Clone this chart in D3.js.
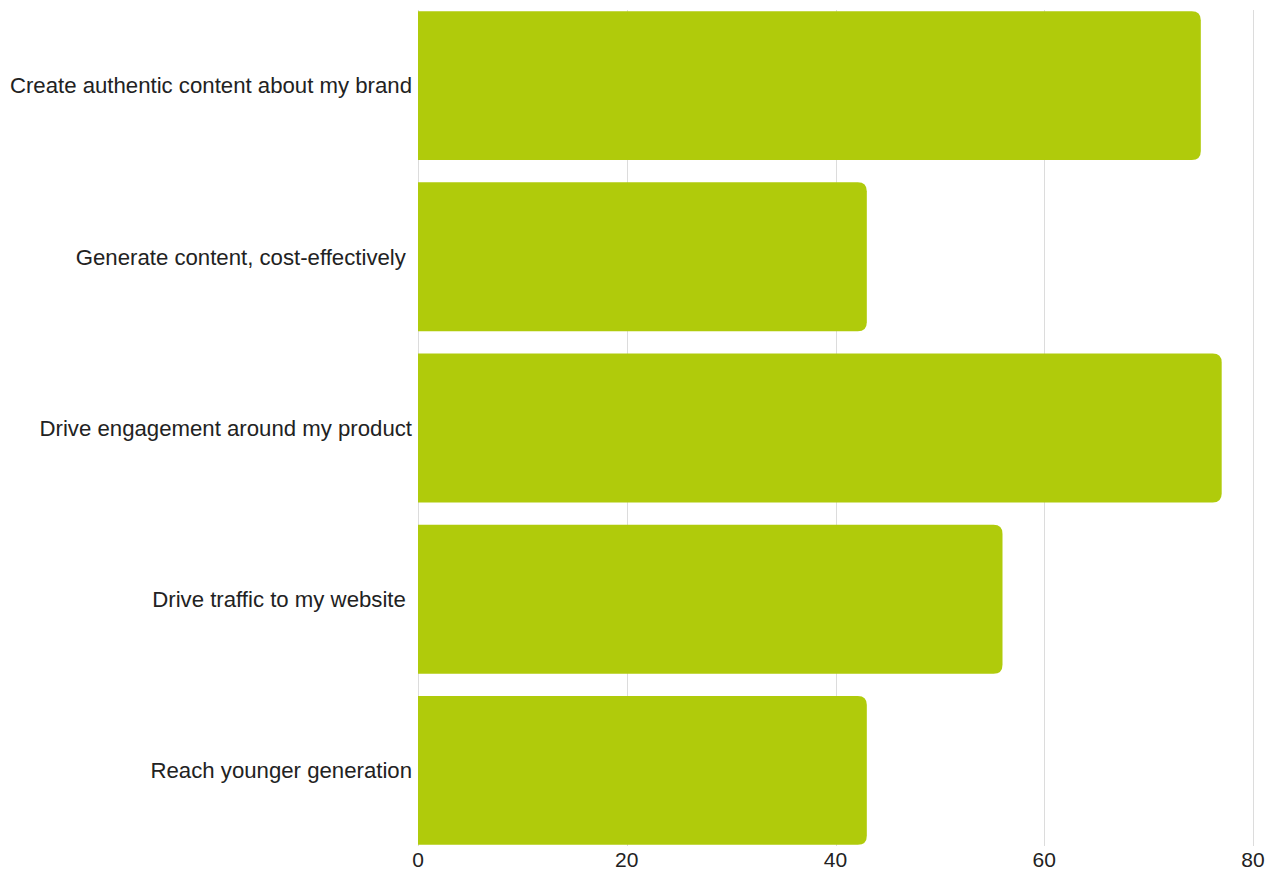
<!DOCTYPE html>
<html>
<head>
<meta charset="utf-8">
<script src="https://cdn.jsdelivr.net/npm/d3@7"></script>
<style>
  body { margin: 0; background: #fff; }
  text { font-family: "Liberation Sans", Arial, sans-serif; }
</style>
</head>
<body>
<svg id="chart" width="1273" height="870"></svg>
<script>
const categories = [
  "Create authentic content about my brand",
  "Generate content, cost-effectively ",
  "Drive engagement around my product",
  "Drive traffic to my website ",
  "Reach younger generation"
];
const values = [75, 43, 77, 56, 43];
const tickValues = [0, 20, 40, 60, 80];

const margin = { left: 418, right: 20, top: 0, bottom: 14 };
const height = 856;

const svg = d3.select("#chart");
const g = svg.append("g").attr("transform", `translate(${margin.left},${margin.top})`);

const x = d3.scaleLinear().domain([0, 80]).range([0, 835]);
const y = d3.scaleBand().domain(categories).range([0, height])
  .paddingInner(0.13).paddingOuter(0.065);

// grid lines
g.selectAll(".grid")
  .data(tickValues)
  .enter()
  .append("line")
  .attr("x1", d => Math.round(x(d)) + 0.5)
  .attr("x2", d => Math.round(x(d)) + 0.5)
  .attr("y1", 10)
  .attr("y2", 846)
  .attr("stroke", "#dcdcdc")
  .attr("stroke-width", 1);

// bars with rounded right corners
const r = 9;
g.selectAll(".bar")
  .data(values)
  .enter()
  .append("path")
  .attr("fill", "#b0cb0b")
  .attr("d", (d, i) => {
    const y0 = y(categories[i]), h = y.bandwidth(), w = x(d);
    return `M0,${y0}H${w - r}Q${w},${y0} ${w},${y0 + r}V${y0 + h - r}Q${w},${y0 + h} ${w - r},${y0 + h}H0Z`;
  });

// x axis labels
g.selectAll(".xtick")
  .data(tickValues)
  .enter()
  .append("text")
  .attr("x", d => x(d))
  .attr("y", 867)
  .attr("text-anchor", "middle")
  .attr("fill", "#222")
  .style("font-size", "21px")
  .text(d => d);

// category labels
g.selectAll(".ylabel")
  .data(categories)
  .enter()
  .append("text")
  .attr("x", -6)
  .attr("y", d => y(d) + y.bandwidth() / 2)
  .attr("dy", "0.35em")
  .attr("text-anchor", "end")
  .attr("fill", "#222")
  .style("font-size", "22.2px")
  .style("white-space", "pre")
  .text(d => d);
</script>
</body>
</html>
